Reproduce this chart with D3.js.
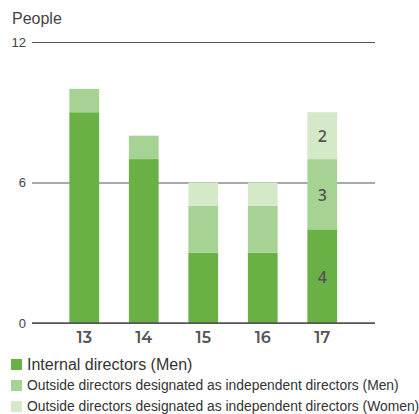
<!DOCTYPE html>
<html>
<head>
<meta charset="utf-8">
<script src="https://cdn.jsdelivr.net/npm/d3@7"></script>
<style>
  html, body { margin: 0; padding: 0; background: #fff; }
  svg { display: block; }
</style>
</head>
<body>
<svg id="chart" width="419" height="414"></svg>
<script>
// Board composition by fiscal year
const years = ["13", "14", "15", "16", "17"];
const internalMen = [9, 7, 3, 3, 4];
const outsideMen = [1, 1, 2, 2, 3];
const outsideWomen = [0, 0, 1, 1, 2];
const yTicks = [0, 6, 12];
const seriesNames = [
  "Internal directors (Men)",
  "Outside directors designated as independent directors (Men)",
  "Outside directors designated as independent directors (Women)"
];
const seriesColors = ["#69b145", "#a6d393", "#d3e9c8"];
// bars whose segment values are printed inside
const labelledYears = ["17"];

const svg = d3.select("#chart");

const x = d3.scaleBand().domain(years).range([54.5, 352]).paddingInner(0.5).paddingOuter(0.25);
const y = d3.scaleLinear().domain([0, 12]).range([323, 42]);

const rows = years.map((yr, i) => ({ year: yr, s0: internalMen[i], s1: outsideMen[i], s2: outsideWomen[i] }));
const stacked = d3.stack().keys(["s0", "s1", "s2"])(rows);

// horizontal gridlines with tick values
const yAxis = d3.axisLeft(y).tickValues(yTicks).tickSize(-(375 - 32)).tickFormat(d3.format("d"));
const gy = svg.append("g").attr("transform", "translate(32,0)").call(yAxis);
gy.select(".domain").remove();
gy.selectAll(".tick line").attr("stroke", "#555").attr("stroke-width", 1);
gy.selectAll(".tick text")
  .attr("x", -6)
  .attr("fill", "#444")
  .style("font-family", "'Liberation Sans', Arial, sans-serif")
  .style("font-size", "13px");

// unit title
svg.append("text").attr("x", 12).attr("y", 24)
  .attr("fill", "#444")
  .style("font-family", "'Liberation Sans', Arial, sans-serif")
  .style("font-size", "16px")
  .text("People");

// stacked bars
svg.append("g").selectAll("g").data(stacked).join("g")
  .attr("fill", (d, i) => seriesColors[i])
  .selectAll("rect").data(d => d).join("rect")
  .attr("x", d => x(d.data.year))
  .attr("width", x.bandwidth())
  .attr("y", d => y(d[1]))
  .attr("height", d => y(d[0]) - y(d[1]));

// baseline axis with year labels
const xAxis = d3.axisBottom(x).tickSize(0).tickPadding(9);
const gx = svg.append("g").attr("transform", "translate(0,323)").call(xAxis);
gx.select(".domain").remove();
gx.append("line").attr("x1", 32).attr("x2", 375).attr("stroke", "#555").attr("stroke-width", 1.5);
gx.selectAll(".tick text")
  .attr("fill", "#555")
  .style("font-family", "Montserrat, 'Open Sans', sans-serif")
  .style("font-weight", "600")
  .style("font-size", "16px");

// segment value labels, centred in each segment
const segLabels = [];
stacked.forEach(layer => layer.forEach(d => {
  if (labelledYears.includes(d.data.year) && d[1] > d[0]) segLabels.push(d);
}));
svg.append("g").selectAll("text").data(segLabels).join("text")
  .attr("x", d => x(d.data.year) + x.bandwidth() / 2)
  .attr("y", d => (y(d[0]) + y(d[1])) / 2 + 1)
  .attr("dy", "0.35em")
  .attr("text-anchor", "middle")
  .attr("fill", "#555")
  .style("font-family", "'Open Sans', sans-serif")
  .style("font-weight", "600")
  .style("font-size", "16px")
  .text(d => d[1] - d[0]);

// legend
const legendSizes = [16, 13.85, 13.85];
const legend = svg.append("g").selectAll("g").data(seriesNames).join("g")
  .attr("transform", (d, i) => `translate(11,${364.5 + i * 21})`);
legend.append("rect").attr("x", 0).attr("y", -5.5).attr("width", 11).attr("height", 11)
  .attr("fill", (d, i) => seriesColors[i]);
legend.append("text").attr("x", 16).attr("dy", "0.35em")
  .attr("fill", "#333")
  .style("font-family", "'Liberation Sans', Arial, sans-serif")
  .style("font-size", (d, i) => legendSizes[i] + "px")
  .text(d => d);
</script>
</body>
</html>
